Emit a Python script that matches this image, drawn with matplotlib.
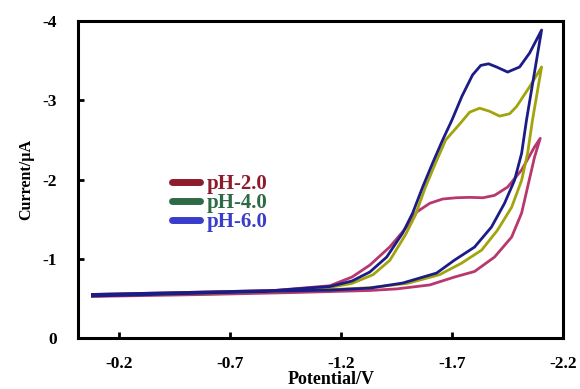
import numpy as np
import matplotlib
matplotlib.use("Agg")
import matplotlib.pyplot as plt
from matplotlib.lines import Line2D

plt.rcParams['font.family'] = ['Liberation Serif', 'DejaVu Serif']
plt.rcParams['font.weight'] = 'bold'
plt.rcParams['axes.unicode_minus'] = False

# pH-2.0: forward scan then reverse scan (potential in V, current in uA)
ph2_v = [-0.08, -0.5, -0.9, -1.15, -1.25, -1.33, -1.42, -1.496, -1.541, -1.600,
         -1.658, -1.72, -1.78, -1.84, -1.892, -1.951, -2.014, -2.072, -2.098,
         -2.085, -2.072, -2.041, -2.014, -1.969, -1.892, -1.802, -1.712, -1.60,
         -1.451, -1.33, -1.0, -0.6, -0.08]
ph2_i = [-0.55, -0.575, -0.60, -0.66, -0.77, -0.92, -1.15, -1.40, -1.59, -1.70,
         -1.754, -1.77, -1.775, -1.77, -1.80, -1.905, -2.12, -2.41, -2.52,
         -2.40, -2.28, -1.905, -1.577, -1.274, -1.022, -0.84, -0.77, -0.67,
         -0.62, -0.60, -0.575, -0.55, -0.525]

# pH-4.0
ph4_v = [-0.36, -0.7, -1.0, -1.15, -1.25, -1.345, -1.42, -1.49, -1.535, -1.58,
         -1.625, -1.672, -1.735, -1.780, -1.825, -1.870, -1.915, -1.96, -1.991,
         -2.05, -2.104,
         -2.063, -2.041, -2.014, -1.969, -1.905, -1.834, -1.744, -1.645, -1.50,
         -1.33, -1.15, -0.9, -0.6, -0.36]
ph4_i = [-0.56, -0.58, -0.60, -0.64, -0.69, -0.80, -0.98, -1.30, -1.55, -1.90,
         -2.20, -2.50, -2.70, -2.85, -2.90, -2.86, -2.80, -2.83, -2.92,
         -3.17, -3.42,
         -2.75, -2.33, -1.99, -1.65, -1.36, -1.11, -0.946, -0.80, -0.69,
         -0.635, -0.61, -0.59, -0.565, -0.55]

# pH-6.0
ph6_v = [-0.08, -0.5, -0.9, -1.15, -1.25, -1.330, -1.406, -1.478, -1.523, -1.568,
         -1.613, -1.658, -1.70, -1.745, -1.793, -1.83, -1.865, -1.901, -1.951,
         -2.005, -2.05, -2.104,
         -2.036, -2.014, -1.982, -1.937, -1.878, -1.802, -1.712, -1.631, -1.478,
         -1.33, -1.15, -0.9, -0.5, -0.08]
ph6_i = [-0.55, -0.575, -0.60, -0.65, -0.72, -0.833, -1.022, -1.325, -1.577, -1.905,
         -2.208, -2.498, -2.75, -3.05, -3.32, -3.44, -3.46, -3.42, -3.356,
         -3.42, -3.596, -3.886,
         -2.75, -2.33, -1.99, -1.70, -1.40, -1.148, -0.984, -0.82, -0.694,
         -0.63, -0.605, -0.59, -0.56, -0.53]

labels = ['pH-2.0', 'pH-4.0', 'pH-6.0']
curve_colors = ['#b8386e', '#a2a40e', '#1c1c86']
legend_colors = ['#8e1b2c', '#2f6a47', '#3a3ccc']

x_ticks = [-0.2, -0.7, -1.2, -1.7, -2.2]
y_ticks = [0, -1, -2, -3, -4]

fig = plt.figure(figsize=(5.8, 3.89), dpi=100)
ax = fig.add_axes([0.1345, 0.131, 0.836, 0.815])

series = [(ph2_v, ph2_i), (ph4_v, ph4_i), (ph6_v, ph6_i)]
for (v, i), c in zip(series, curve_colors):
    ax.plot(v, i, color=c, lw=2, solid_joinstyle='round')

ax.set_xlim(-0.015, -2.2)
ax.set_ylim(0, -4)
ax.set_xticks(x_ticks)
ax.set_xticklabels(['%.1f' % t for t in x_ticks])
ax.set_yticks(y_ticks)
ax.set_yticklabels(['%d' % t for t in y_ticks])
ax.tick_params(direction='in', length=4, width=2, labelsize=12.5)
ax.tick_params(axis='x', pad=13)
ax.tick_params(axis='y', pad=15)
for s in ax.spines.values():
    s.set_linewidth(2.2)
    s.set_color('black')

ax.set_xlabel('Potential/V', fontsize=13, fontweight='bold')
ax.xaxis.set_label_coords(0.522, -0.105)
ax.set_ylabel('Current/µA', fontsize=11.5, fontweight='bold', labelpad=6)

handles = [Line2D([], [], color=c, lw=5, solid_capstyle='round') for c in legend_colors]
ax.legend(handles, labels, loc='upper left', bbox_to_anchor=(0.155, 0.575),
          frameon=False, labelcolor=legend_colors,
          handlelength=1.35, handletextpad=0.3, labelspacing=-0.05,
          prop={'weight': 'bold', 'size': 15})

fig.savefig('out.png', dpi=100)
